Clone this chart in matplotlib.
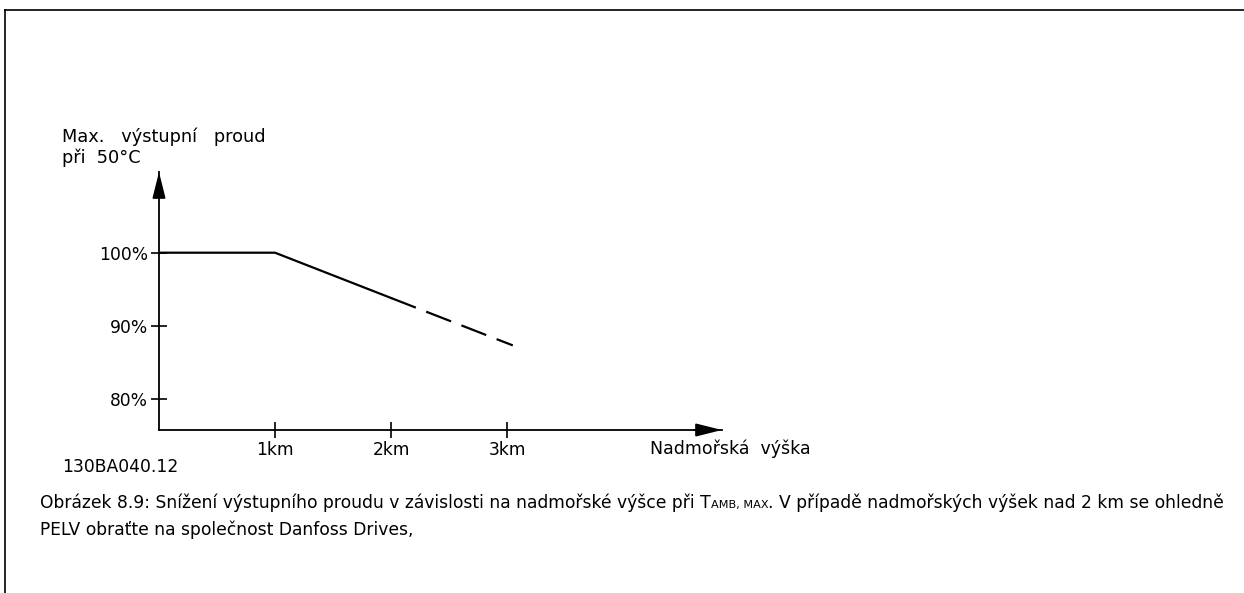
import matplotlib
matplotlib.use('Agg')
import matplotlib.pyplot as plt
from matplotlib.lines import Line2D

# derating curve, altitude in km vs max output current in %
alt_solid = [0.0, 1.0, 2.0]
cur_solid = [100.0, 100.0, 93.8]
alt_dash = [2.0, 3.05]
cur_dash = [93.8, 87.3]

x_ticks = [1, 2, 3]
x_labels = ['1km', '2km', '3km']
y_ticks = [80, 90, 100]
y_labels = ['80%', '90%', '100%']

W, H = 1244, 593


def fx(px):
    return px / W


def fy(py):
    return 1 - py / H


def main():
    plt.rcParams['font.family'] = ['DejaVu Sans']
    fig = plt.figure(figsize=(W / 100, H / 100), dpi=100)

    # page frame
    fig.add_artist(Line2D([fx(5), 1], [fy(10), fy(10)], color='black', lw=1.2))
    fig.add_artist(Line2D([fx(5), fx(5)], [fy(10), 0], color='black', lw=1.2))

    x0, x1, ytop, ybot = 159, 722, 172, 430
    ax = fig.add_axes([fx(x0), fy(ybot), fx(x1 - x0), (ybot - ytop) / H])
    ax.set_xlim(0, (x1 - x0) / 116.0)
    ax.set_ylim(100 - (ybot - 252.7) / 7.3, 100 + (252.7 - ytop) / 7.3)
    ax.patch.set_alpha(0)

    ax.plot(alt_solid, cur_solid, color='black', lw=1.6)
    ax.plot(alt_dash, cur_dash, color='black', lw=1.6, dashes=(12, 5))

    for s in ['top', 'right']:
        ax.spines[s].set_visible(False)
    ax.spines['left'].set_linewidth(1.3)
    ax.spines['bottom'].set_linewidth(1.3)

    ax.set_xticks(x_ticks)
    ax.set_xticklabels(x_labels)
    ax.set_yticks(y_ticks)
    ax.set_yticklabels(y_labels)
    ax.tick_params(direction='inout', length=12, width=1.2, labelsize=12.3, pad=2)
    ax.tick_params(axis='x', pad=2)

    # arrow heads
    ax.annotate('', xy=(1, 0), xytext=(0.95, 0), xycoords='axes fraction',
                arrowprops=dict(arrowstyle='-|>,head_length=1.6,head_width=0.4',
                                color='black', lw=1.3, shrinkA=0, shrinkB=0))
    ax.annotate('', xy=(0, 1), xytext=(0, 0.9), xycoords='axes fraction',
                arrowprops=dict(arrowstyle='-|>,head_length=1.6,head_width=0.4',
                                color='black', lw=1.3, shrinkA=0, shrinkB=0))

    fig.text(fx(62), fy(137), 'Max.   výstupní   proud', fontsize=12.8, va='center')
    fig.text(fx(62), fy(158), 'při  50°C', fontsize=12.8, va='center')
    fig.text(fx(650), fy(449), 'Nadmořská  výška', fontsize=12.5, va='center')
    fig.text(fx(62), fy(467), '130BA040.12', fontsize=12.3, va='center')

    # caption, first line built in pieces for the small subscript
    cs = 12.3
    t1 = fig.text(fx(40), fy(508), 'Obrázek 8.9: Snížení výstupního proudu v závislosti na '
                  'nadmořské výšce při T', fontsize=cs, va='baseline')
    fig.canvas.draw()
    t2 = fig.text(0, 0, 'AMB, MAX', fontsize=cs * 0.66, va='baseline',
                  transform=t1.get_transform())
    r = fig.canvas.get_renderer()
    bb = t1.get_window_extent(r)
    t2.set_position((bb.x1 / W, fy(508)))
    bb2 = t2.get_window_extent(r)
    fig.text(bb2.x1 / W, fy(508), '. V případě nadmořských výšek nad 2 km se ohledně',
             fontsize=cs, va='baseline')
    fig.text(fx(40), fy(535), 'PELV obraťte na společnost Danfoss Drives,',
             fontsize=cs, va='baseline')

    fig.savefig('out.png', dpi=100)


if __name__ == '__main__':
    main()
